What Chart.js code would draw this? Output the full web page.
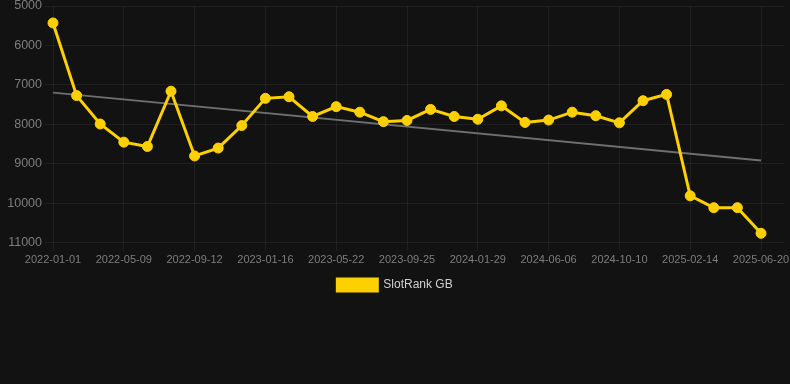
<!DOCTYPE html>
<html>
<head>
<meta charset="utf-8">
<script src="https://cdn.jsdelivr.net/npm/chart.js@4.4.1/dist/chart.umd.min.js"></script>
<style>
  html, body { margin:0; padding:0; background:#121212; }
  #wrap { width:790px; height:301px; position:relative; }
</style>
</head>
<body>
<div id="wrap"><canvas id="rankChart"></canvas></div>
<script>
// fechas de cada punto (cada ~6 semanas), una vacia al final para el margen
const fechas = [
  "2022-01-01","2022-02-13","2022-03-27","2022-05-09","2022-06-20","2022-08-01",
  "2022-09-12","2022-10-24","2022-12-05","2023-01-16","2023-02-27","2023-04-10",
  "2023-05-22","2023-07-03","2023-08-14","2023-09-25","2023-11-06","2023-12-18",
  "2024-01-29","2024-03-11","2024-04-24","2024-06-06","2024-07-18","2024-08-29",
  "2024-10-10","2024-11-22","2025-01-03","2025-02-14","2025-03-28","2025-05-09",
  "2025-06-20",""
];

// posicion en el ranking
const rankGB = [
  5430, 7270, 7990, 8450, 8560, 7160, 8800, 8600, 8030, 7340, 7300,
  7800, 7550, 7690, 7930, 7900, 7620, 7800, 7870, 7530, 7950, 7890,
  7690, 7780, 7960, 7400, 7240, 9810, 10110, 10110, 10760
];

// linea de tendencia: solo extremos
const tendInicio = 7195;
const tendFin = 8915;

const ticksY = [5000, 6000, 7000, 8000, 9000, 10000, 11000];

let tendencia = rankGB.map(() => null);
tendencia[0] = tendInicio;
tendencia[rankGB.length - 1] = tendFin;

const amarillo = 'rgb(255, 208, 0)';
const textoGris = '#7d7d7d';
const lineaGrid = 'rgba(255,255,255,0.06)';

Chart.defaults.font.family = '"Liberation Sans", Arial, sans-serif';
Chart.defaults.font.size = 12;

let ctx = document.getElementById('rankChart').getContext('2d');
new Chart(ctx, {
  type: 'line',
  data: {
    labels: fechas,
    datasets: [
      {
        label: 'SlotRank GB',
        data: rankGB,
        borderColor: amarillo,
        backgroundColor: amarillo,
        pointBackgroundColor: amarillo,
        pointBorderColor: amarillo,
        borderWidth: 3,
        pointRadius: 5,
        pointBorderWidth: 1,
        tension: 0,
        order: 1
      },
      {
        label: 'trend',
        data: tendencia,
        borderColor: '#6f6f6f',
        borderWidth: 2,
        pointRadius: 0,
        spanGaps: true,
        fill: false,
        order: 2
      }
    ]
  },
  options: {
    responsive: true,
    maintainAspectRatio: false,
    animation: false,
    layout: { autoPadding: false, padding: 0 },
    plugins: {
      legend: {
        position: 'bottom',
        labels: {
          color: '#d0d0d0',
          boxWidth: 40,
          boxHeight: 12,
          padding: 9,
          filter: item => item.text !== 'trend'
        }
      },
      tooltip: { enabled: false }
    },
    scales: {
      x: {
        grid: { color: lineaGrid },
        border: { display: false },
        afterFit: axis => { axis.paddingLeft = 0; axis.paddingRight = 5.4; },
        ticks: {
          color: textoGris,
          font: { size: 11 },
          autoSkip: false,
          maxRotation: 0,
          minRotation: 0,
          callback: function(val, idx){
            return (idx % 3 === 0 && fechas[idx] !== "") ? fechas[idx] : null;
          }
        }
      },
      y: {
        reverse: true,
        min: ticksY[0],
        max: ticksY[ticksY.length - 1],
        grid: { color: lineaGrid },
        border: { display: false },
        afterBuildTicks: axis => { axis.ticks = ticksY.map(v => ({ value: v })); },
        afterFit: axis => { axis.width = 53; axis.paddingTop = 6; axis.paddingBottom = 0; },
        ticks: {
          color: textoGris,
          font: { size: 12.5 },
          callback: val => String(val)
        }
      }
    }
  }
});
</script>
</body>
</html>
